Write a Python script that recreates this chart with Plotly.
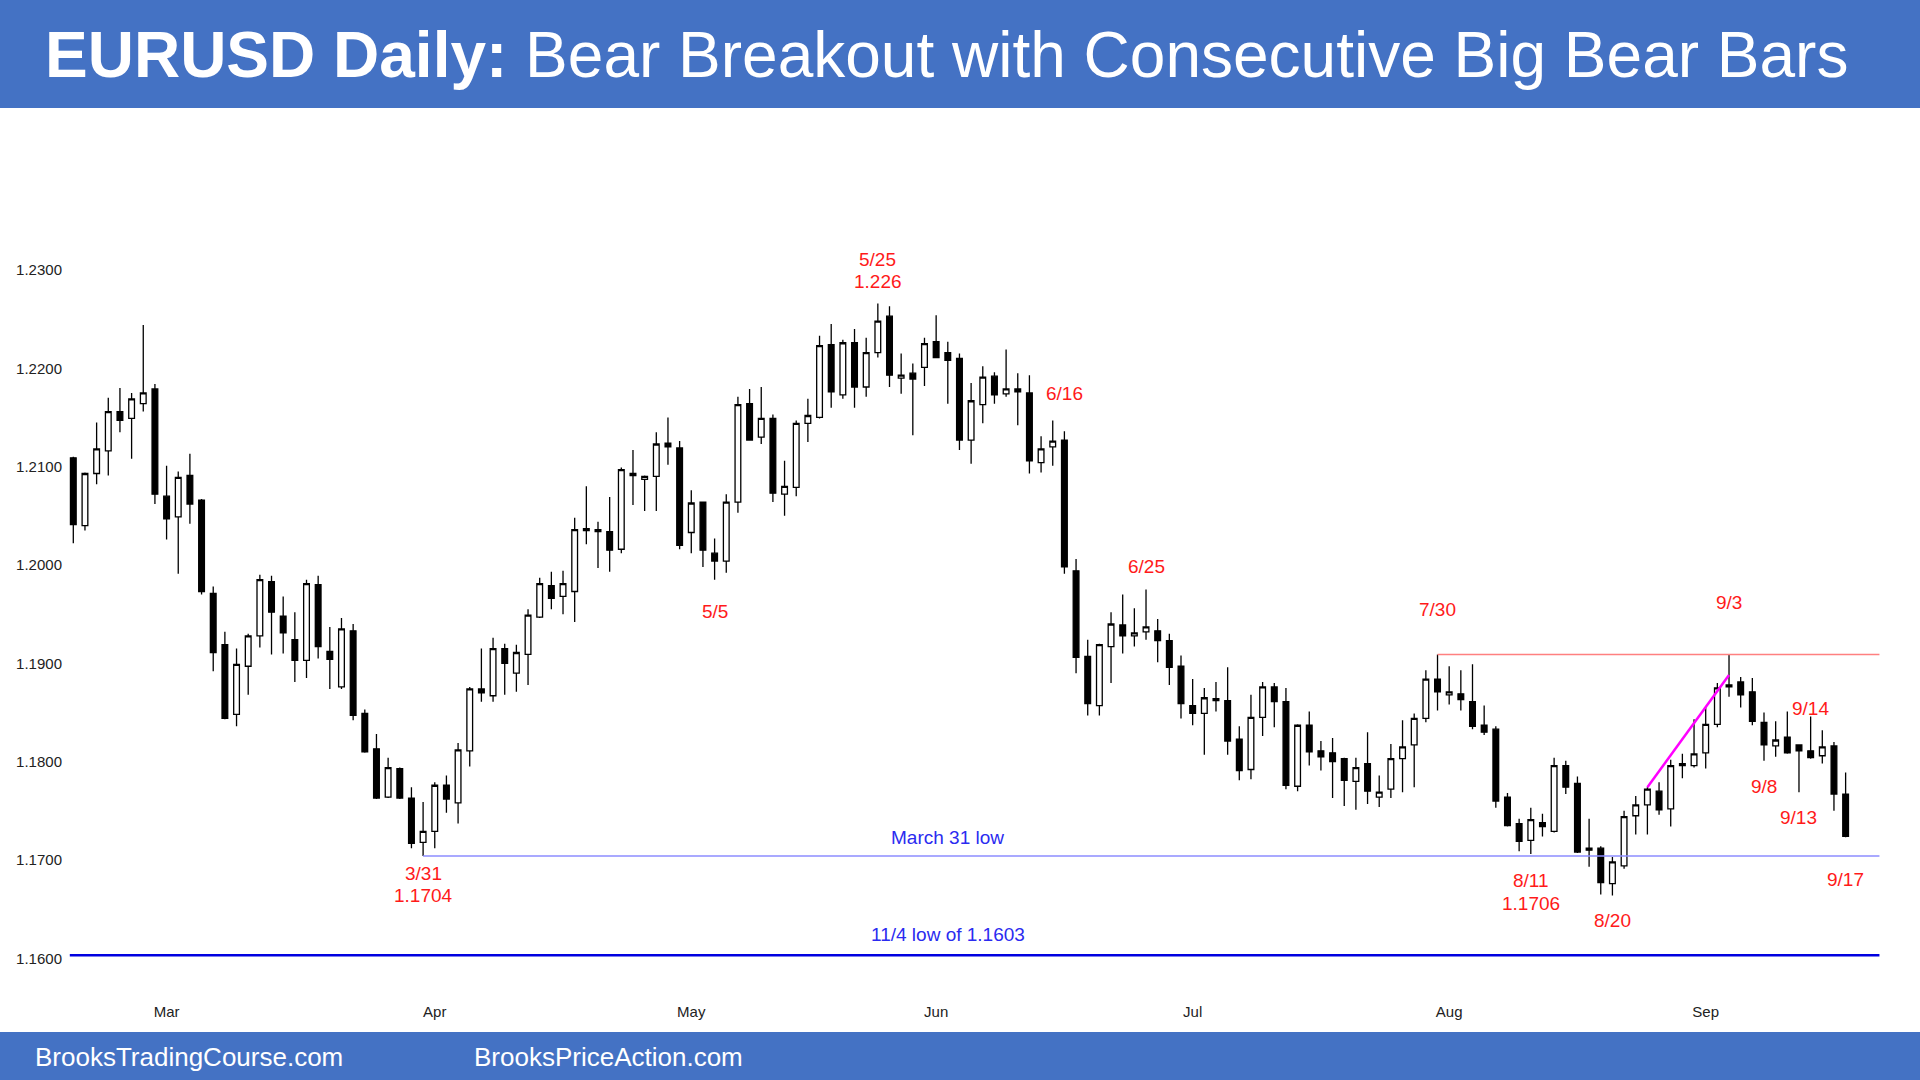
import pandas as pd
import plotly.graph_objects as go

# EURUSD daily bars, 2021-02-17 .. 2021-09-17 (weekdays)
dates = [d.strftime("%Y-%m-%d") for d in pd.bdate_range("2021-02-17", "2021-09-17")]

opens = [
    1.2109, 1.2040, 1.2093, 1.2116, 1.2156, 1.2149, 1.2164, 1.2179, 1.2070, 1.2049,
    1.2091, 1.2066, 1.1971, 1.1919, 1.1848, 1.1897, 1.1928, 1.1983, 1.1948, 1.1924,
    1.1903, 1.1980, 1.1912, 1.1876, 1.1933, 1.1849, 1.1813, 1.1764, 1.1793, 1.1763,
    1.1718, 1.1729, 1.1776, 1.1758, 1.1811, 1.1874, 1.1867, 1.1915, 1.1890, 1.1909,
    1.1947, 1.1979, 1.1968, 1.1973, 1.2035, 1.2036, 1.2034, 1.2016, 1.2093, 1.2087,
    1.2090, 1.2124, 1.2119, 1.2033, 1.2064, 1.2012, 1.2004, 1.2064, 1.2164, 1.2130,
    1.2149, 1.2072, 1.2079, 1.2144, 1.2150, 1.2224, 1.2173, 1.2226, 1.2181, 1.2216,
    1.2253, 1.2190, 1.2195, 1.2201, 1.2227, 1.2216, 1.2210, 1.2127, 1.2163, 1.2192,
    1.2174, 1.2179, 1.2175, 1.2104, 1.2120, 1.2127, 1.1994, 1.1907, 1.1857, 1.1917,
    1.1939, 1.1928, 1.1932, 1.1933, 1.1923, 1.1897, 1.1857, 1.1849, 1.1864, 1.1862,
    1.1823, 1.1792, 1.1845, 1.1876, 1.1861, 1.1775, 1.1837, 1.1811, 1.1809, 1.1803,
    1.1780, 1.1798, 1.1764, 1.1772, 1.1803, 1.1817, 1.1844, 1.1884, 1.1868, 1.1869,
    1.1861, 1.1837, 1.1833, 1.1764, 1.1737, 1.1720, 1.1738, 1.1729, 1.1796, 1.1778,
    1.1712, 1.1712, 1.1676, 1.1694, 1.1745, 1.1756, 1.1770, 1.1752, 1.1796, 1.1796,
    1.1809, 1.1838, 1.1876, 1.1881, 1.1871, 1.1840, 1.1816, 1.1825, 1.1817, 1.1811,
    1.1806, 1.1816, 1.1767,
]
highs = [
    1.2110, 1.2094, 1.2145, 1.2170, 1.2180, 1.2175, 1.2244, 1.2184, 1.2101, 1.2095,
    1.2113, 1.2067, 1.1978, 1.1932, 1.1915, 1.1930, 1.1990, 1.1989, 1.1968, 1.1952,
    1.1985, 1.1989, 1.1937, 1.1946, 1.1940, 1.1853, 1.1828, 1.1804, 1.1794, 1.1774,
    1.1759, 1.1779, 1.1786, 1.1819, 1.1876, 1.1915, 1.1926, 1.1920, 1.1919, 1.1955,
    1.1987, 1.1993, 1.1994, 1.2048, 1.2080, 1.2044, 1.2069, 1.2099, 1.2117, 1.2091,
    1.2135, 1.2150, 1.2126, 1.2076, 1.2064, 1.2027, 1.2072, 1.2171, 1.2179, 1.2181,
    1.2153, 1.2106, 1.2147, 1.2169, 1.2233, 1.2245, 1.2229, 1.2240, 1.2231, 1.2266,
    1.2263, 1.2215, 1.2205, 1.2231, 1.2254, 1.2227, 1.2215, 1.2185, 1.2202, 1.2196,
    1.2219, 1.2195, 1.2193, 1.2131, 1.2147, 1.2136, 1.2006, 1.1924, 1.1920, 1.1952,
    1.1970, 1.1956, 1.1975, 1.1945, 1.1930, 1.1908, 1.1884, 1.1875, 1.1881, 1.1896,
    1.1836, 1.1868, 1.1881, 1.1880, 1.1875, 1.1838, 1.1851, 1.1821, 1.1824, 1.1804,
    1.1804, 1.1830, 1.1786, 1.1818, 1.1842, 1.1849, 1.1893, 1.1909, 1.1897, 1.1893,
    1.1899, 1.1857, 1.1836, 1.1768, 1.1742, 1.1753, 1.1747, 1.1804, 1.1801, 1.1785,
    1.1742, 1.1714, 1.1703, 1.1750, 1.1765, 1.1774, 1.1779, 1.1802, 1.1808, 1.1843,
    1.1856, 1.1880, 1.1909, 1.1886, 1.1885, 1.1850, 1.1841, 1.1851, 1.1817, 1.1846,
    1.1832, 1.1820, 1.1789,
]
lows = [
    1.2022, 1.2035, 1.2082, 1.2091, 1.2135, 1.2108, 1.2156, 1.2062, 1.2026, 1.1991,
    1.2042, 1.1970, 1.1892, 1.1843, 1.1836, 1.1868, 1.1916, 1.1909, 1.1910, 1.1881,
    1.1885, 1.1905, 1.1874, 1.1874, 1.1842, 1.1809, 1.1762, 1.1763, 1.1762, 1.1712,
    1.1704, 1.1712, 1.1748, 1.1737, 1.1795, 1.1861, 1.1861, 1.1868, 1.1871, 1.1878,
    1.1946, 1.1955, 1.1950, 1.1942, 1.2021, 1.1997, 1.1993, 1.2012, 1.2061, 1.2055,
    1.2055, 1.2102, 1.2016, 1.2012, 1.1998, 1.1985, 1.1992, 1.2053, 1.2127, 1.2123,
    1.2064, 1.2050, 1.2070, 1.2125, 1.2149, 1.2160, 1.2169, 1.2160, 1.2171, 1.2211,
    1.2181, 1.2174, 1.2132, 1.2182, 1.2211, 1.2164, 1.2117, 1.2103, 1.2144, 1.2164,
    1.2171, 1.2142, 1.2093, 1.2094, 1.2101, 1.1991, 1.1890, 1.1847, 1.1847, 1.1880,
    1.1910, 1.1917, 1.1924, 1.1901, 1.1878, 1.1844, 1.1837, 1.1807, 1.1851, 1.1807,
    1.1781, 1.1782, 1.1826, 1.1835, 1.1772, 1.1770, 1.1796, 1.1791, 1.1763, 1.1755,
    1.1751, 1.1757, 1.1754, 1.1763, 1.1769, 1.1774, 1.1840, 1.1852, 1.1858, 1.1852,
    1.1833, 1.1827, 1.1753, 1.1734, 1.1709, 1.1706, 1.1724, 1.1728, 1.1767, 1.1707,
    1.1693, 1.1665, 1.1664, 1.1691, 1.1726, 1.1726, 1.1746, 1.1734, 1.1783, 1.1794,
    1.1793, 1.1835, 1.1866, 1.1855, 1.1837, 1.1801, 1.1805, 1.1808, 1.1769, 1.1803,
    1.1798, 1.1750, 1.1723,
]
closes = [
    1.2041, 1.2093, 1.2118, 1.2156, 1.2147, 1.2169, 1.2175, 1.2072, 1.2047, 1.2089,
    1.2062, 1.1973, 1.1911, 1.1844, 1.1899, 1.1928, 1.1985, 1.1952, 1.1931, 1.1903,
    1.1981, 1.1917, 1.1904, 1.1935, 1.1847, 1.1810, 1.1763, 1.1794, 1.1763, 1.1717,
    1.1729, 1.1776, 1.1762, 1.1812, 1.1874, 1.1870, 1.1915, 1.1900, 1.1911, 1.1949,
    1.1981, 1.1966, 1.1981, 1.2036, 1.2037, 1.2034, 1.2015, 1.2097, 1.2091, 1.2090,
    1.2123, 1.2120, 1.2020, 1.2063, 1.2015, 1.2004, 1.2064, 1.2163, 1.2127, 1.2149,
    1.2073, 1.2080, 1.2144, 1.2152, 1.2223, 1.2176, 1.2226, 1.2181, 1.2216, 1.2248,
    1.2193, 1.2193, 1.2189, 1.2225, 1.2211, 1.2208, 1.2127, 1.2167, 1.2191, 1.2173,
    1.2179, 1.2176, 1.2106, 1.2118, 1.2126, 1.1998, 1.1906, 1.1859, 1.1919, 1.1940,
    1.1928, 1.1931, 1.1937, 1.1923, 1.1896, 1.1859, 1.1849, 1.1865, 1.1862, 1.1821,
    1.1791, 1.1845, 1.1876, 1.1861, 1.1776, 1.1837, 1.1810, 1.1805, 1.1800, 1.1781,
    1.1794, 1.1770, 1.1769, 1.1803, 1.1815, 1.1844, 1.1884, 1.1871, 1.1871, 1.1863,
    1.1836, 1.1830, 1.1760, 1.1735, 1.1719, 1.1741, 1.1734, 1.1796, 1.1774, 1.1708,
    1.1710, 1.1677, 1.1698, 1.1744, 1.1756, 1.1772, 1.1751, 1.1796, 1.1798, 1.1808,
    1.1838, 1.1875, 1.1878, 1.1868, 1.1841, 1.1817, 1.1822, 1.1809, 1.1811, 1.1804,
    1.1815, 1.1767, 1.1724,
]

month_names = ["Mar", "Apr", "May", "Jun", "Jul", "Aug", "Sep"]
price_ticks = [1.16, 1.17, 1.18, 1.19, 1.20, 1.21, 1.22, 1.23]

march31_low = 1.1704
nov4_low = 1.1603
july30_high = 1.1909
trend_end = 1.1888

# first trading day of each month for the x tick labels
month_starts = []
for d in dates:
    if d[5:7] != "02" and (not month_starts or month_starts[-1][5:7] != d[5:7]):
        month_starts.append(d)

idx = {d: i for i, d in enumerate(dates)}
last = len(dates) - 1

RED = "#FF1A1A"
BLUE_TXT = "#2B2BF0"
FONT = "Liberation Sans, Arial, sans-serif"

fig = go.Figure()
fig.add_trace(go.Candlestick(
    x=dates, open=opens, high=highs, low=lows, close=closes,
    increasing=dict(line=dict(color="black", width=1.3), fillcolor="white"),
    decreasing=dict(line=dict(color="black", width=1.3), fillcolor="black"),
    showlegend=False, hoverinfo="skip",
))

shapes = [
    # banners
    dict(type="rect", xref="paper", yref="paper", x0=-0.1, x1=1.1, y0=1.0137, y1=1.3,
         fillcolor="#4472C4", line=dict(width=0), layer="below"),
    dict(type="rect", xref="paper", yref="paper", x0=-0.1, x1=1.1, y0=-0.3, y1=-0.0423,
         fillcolor="#4472C4", line=dict(width=0), layer="below"),
    # 11/4 low
    dict(type="line", xref="x", yref="y", x0=-0.3, x1=last + 2.9, y0=nov4_low, y1=nov4_low,
         line=dict(color="#0000E0", width=2.5)),
    # March 31 low
    dict(type="line", xref="x", yref="y", x0=idx["2021-03-31"], x1=last + 2.9,
         y0=march31_low, y1=march31_low, line=dict(color="#8C8CFF", width=1.6)),
    # 7/30 high
    dict(type="line", xref="x", yref="y", x0=idx["2021-07-30"], x1=last + 2.9,
         y0=july30_high, y1=july30_high, line=dict(color="#FF8080", width=1.6)),
    # bull trend line into 9/3
    dict(type="line", xref="x", yref="y", x0=idx["2021-08-25"], x1=idx["2021-09-03"],
         y0=highs[idx["2021-08-25"]], y1=trend_end, line=dict(color="#FF00FF", width=2.5)),
]

labels = [
    ("5/25", "2021-05-25", 1.23106, RED),
    ("1.226", "2021-05-25", 1.22882, RED),
    ("6/16", "2021-06-16", 1.21748, RED),
    ("6/25", "2021-06-25", 1.19980, RED),
    ("5/5", "2021-05-05", 1.19532, RED),
    ("7/30", "2021-07-30", 1.19544, RED),
    ("9/3", "2021-09-03", 1.19618, RED),
    ("9/14", "2021-09-14", 1.18543, RED),
    ("9/8", "2021-09-08", 1.17745, RED),
    ("9/13", "2021-09-13", 1.17430, RED),
    ("9/17", "2021-09-17", 1.16805, RED),
    ("3/31", "2021-03-31", 1.16867, RED),
    ("1.1704", "2021-03-31", 1.16643, RED),
    ("8/11", "2021-08-11", 1.16796, RED),
    ("1.1706", "2021-08-11", 1.16556, RED),
    ("8/20", "2021-08-20", 1.16381, RED),
    ("March 31 low", "2021-06-02", 1.17228, BLUE_TXT),
    ("11/4 low of 1.1603", "2021-06-02", 1.16244, BLUE_TXT),
]
annotations = [
    dict(text=t, x=idx[d], y=p, xref="x", yref="y", showarrow=False,
         xanchor="center", yanchor="middle", font=dict(family=FONT, size=19, color=c))
    for t, d, p, c in labels
]
annotations += [
    dict(text="<b>EURUSD Daily:</b> Bear Breakout with Consecutive Big Bear Bars",
         xref="paper", yref="paper", x=-0.0128, y=1.0743, xanchor="left", yanchor="middle",
         showarrow=False, font=dict(family=FONT, size=64, color="white")),
    dict(text="BrooksTradingCourse.com", xref="paper", yref="paper", x=-0.018, y=-0.0709,
         xanchor="left", yanchor="middle", showarrow=False,
         font=dict(family=FONT, size=26, color="white")),
    dict(text="BrooksPriceAction.com", xref="paper", yref="paper", x=0.2225, y=-0.0709,
         xanchor="left", yanchor="middle", showarrow=False,
         font=dict(family=FONT, size=26, color="white")),
]

fig.update_layout(
    width=1920, height=1080,
    margin=dict(l=66, r=30, t=120, b=85),
    paper_bgcolor="white", plot_bgcolor="white",
    shapes=shapes, annotations=annotations,
    hovermode=False,
    font=dict(family=FONT, size=15, color="#222222"),
)
fig.update_xaxes(
    type="category", range=[-0.626, 155.806],
    tickvals=month_starts, ticktext=month_names,
    showgrid=False, zeroline=False, showline=False, ticks="",
    ticklabelstandoff=6,
    rangeslider=dict(visible=False), tickfont=dict(size=15),
)
fig.update_yaxes(
    range=[1.15627, 1.24525], tickvals=price_ticks, tickformat=".4f",
    showgrid=False, zeroline=False, showline=False, ticks="",
    ticklabelstandoff=3,
    tickfont=dict(size=15),
)

fig.write_html(
    "out.html",
    config={"displayModeBar": False},
    post_script="document.body.style.margin='0';document.body.style.overflow='hidden';",
)
